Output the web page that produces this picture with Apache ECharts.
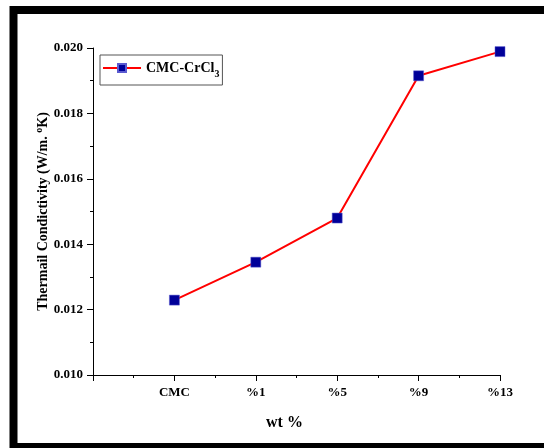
<!DOCTYPE html>
<html>
<head>
<meta charset="utf-8">
<script src="https://cdn.jsdelivr.net/npm/echarts@6/dist/echarts.min.js"></script>
<style>html,body{margin:0;padding:0;background:#fff;}#c{width:544px;height:448px;}</style>
</head>
<body>
<div id="c"></div>
<script>
var categories = ['CMC', '%1', '%5', '%9', '%13'];
var conductivity = [0.01229, 0.01345, 0.01480, 0.01915, 0.01989];
var yTicks = [0.010, 0.012, 0.014, 0.016, 0.018, 0.020];
var seriesName = 'CMC-CrCl3';

var font = 'Liberation Serif, Times New Roman, serif';
var points = conductivity.map(function (v, i) { return [i + 1, v]; });

var chart = echarts.init(document.getElementById('c'));
chart.setOption({
  backgroundColor: '#fff',
  animation: false,
  graphic: [{
    type: 'rect',
    shape: { x: 13.5, y: 10, width: 580, height: 437 },
    style: { fill: 'none', stroke: '#000', lineWidth: 8 },
    z: 100
  }],
  grid: { left: 93, right: 44, top: 48, bottom: 73 },
  legend: {
    left: 100, top: 55,
    padding: [6, 3, 6, 2],
    borderColor: '#555', borderWidth: 1,
    itemWidth: 38, itemHeight: 10,
    data: [seriesName],
    formatter: function () { return '{b|CMC-CrCl}{s|3}'; },
    textStyle: {
      fontFamily: font, fontWeight: 'bold', fontSize: 14, color: '#000',
      rich: {
        b: { fontFamily: font, fontWeight: 'bold', fontSize: 14, color: '#000', lineHeight: 18, verticalAlign: 'middle' },
        s: { fontFamily: font, fontWeight: 'bold', fontSize: 10, color: '#000', verticalAlign: 'bottom', lineHeight: 18, padding: [0, 0, -2, 0] }
      }
    }
  },
  xAxis: {
    type: 'value', min: 0, max: 5, interval: 1,
    name: 'wt %', nameLocation: 'middle', nameGap: 40, nameMoveOverlap: false,
    nameTextStyle: { fontFamily: font, fontWeight: 'bold', fontSize: 16, color: '#000', padding: [0, 24, 0, 0] },
    axisLine: { show: true, lineStyle: { color: '#000', width: 1 } },
    axisTick: { show: true, inside: false, length: 6, lineStyle: { color: '#000' } },
    minorTick: { show: true, splitNumber: 2, length: 3, lineStyle: { color: '#000' } },
    splitLine: { show: false },
    axisLabel: {
      margin: 11, fontFamily: font, fontWeight: 'bold', fontSize: 13, color: '#000',
      formatter: function (v) { return categories[Math.round(v) - 1] || ''; }
    }
  },
  yAxis: {
    type: 'value', min: yTicks[0], max: yTicks[yTicks.length - 1], interval: 0.002,
    name: '{t|Thermail Condictivity (W/m. }{p|o}{t|K)}', nameLocation: 'middle', nameGap: 41, nameMoveOverlap: false,
    nameTextStyle: {
      fontFamily: font, fontWeight: 'bold', fontSize: 14, color: '#000',
      rich: {
        t: { fontFamily: font, fontWeight: 'bold', fontSize: 14, color: '#000', lineHeight: 18 },
        p: { fontFamily: font, fontWeight: 'bold', fontSize: 10, color: '#000', verticalAlign: 'top', lineHeight: 18 }
      }
    },
    axisLine: { show: true, lineStyle: { color: '#000', width: 1 } },
    axisTick: { show: true, inside: false, length: 6, lineStyle: { color: '#000' } },
    minorTick: { show: true, splitNumber: 2, length: 3, lineStyle: { color: '#000' } },
    splitLine: { show: false },
    axisLabel: {
      margin: 10, fontFamily: font, fontWeight: 'bold', fontSize: 13, color: '#000',
      formatter: function (v) { return v.toFixed(3); }
    }
  },
  series: [{
    name: seriesName,
    type: 'line',
    data: points,
    symbol: 'rect', symbolSize: 10,
    lineStyle: { color: '#ff0000', width: 2 },
    itemStyle: { color: '#000099', borderColor: '#5a5ad0', borderWidth: 0.5 }
  }]
});
</script>
</body>
</html>
